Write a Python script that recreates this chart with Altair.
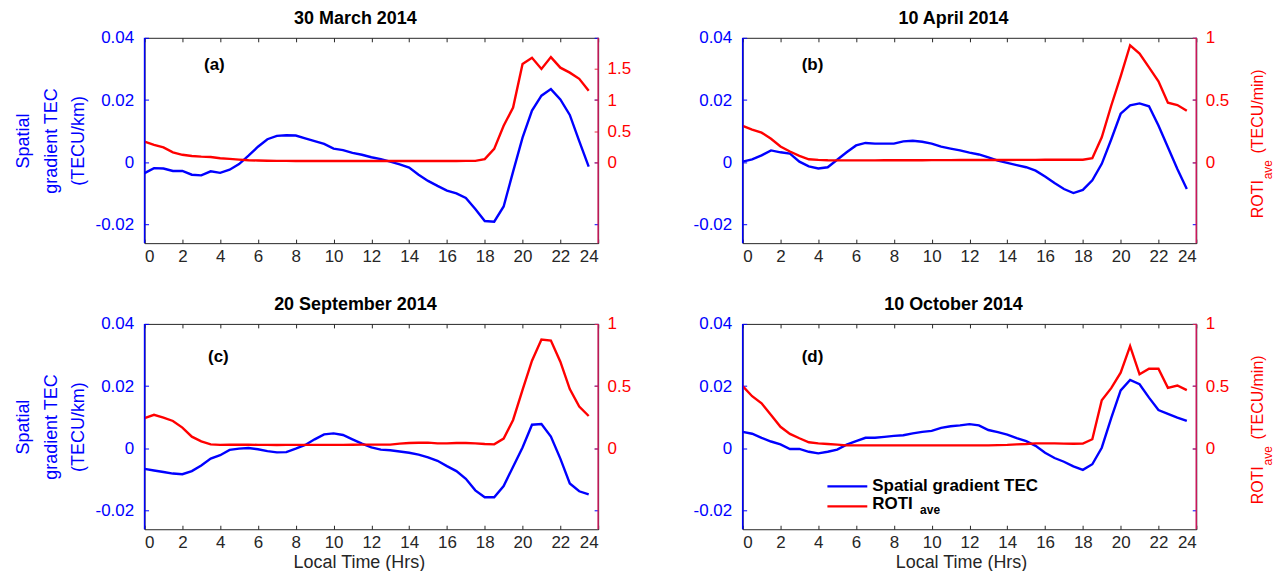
import altair as alt
import pandas as pd

hours = [0.0, 0.5, 1.0, 1.5, 2.0, 2.5, 3.0, 3.5, 4.0, 4.5, 5.0, 5.5,
         6.0, 6.5, 7.0, 7.5, 8.0, 8.5, 9.0, 9.5, 10.0, 10.5, 11.0, 11.5,
         12.0, 12.5, 13.0, 13.5, 14.0, 14.5, 15.0, 15.5, 16.0, 16.5, 17.0, 17.5,
         18.0, 18.5, 19.0, 19.5, 20.0, 20.5, 21.0, 21.5, 22.0, 22.5, 23.0, 23.5]

# (a) 30 March 2014
sg_a = [-0.0035, -0.0019, -0.0020, -0.0028, -0.0028, -0.0040, -0.0042, -0.0029,
        -0.0034, -0.0024, -0.0006, 0.0021, 0.0050, 0.0074, 0.0085, 0.0087,
        0.0086, 0.0077, 0.0068, 0.0059, 0.0044, 0.0039, 0.0030, 0.0024,
        0.0016, 0.0010, 0.0002, -0.0007, -0.0017, -0.0040, -0.0060, -0.0076,
        -0.0091, -0.0100, -0.0115, -0.0150, -0.0189, -0.0191, -0.0142, -0.0030,
        0.0079, 0.0166, 0.0214, 0.0235, 0.0202, 0.0152, 0.0068, -0.0014]
roti_a = [0.33, 0.28, 0.24, 0.16, 0.12, 0.10, 0.09, 0.085,
          0.065, 0.054, 0.043, 0.032, 0.028, 0.025, 0.023, 0.022,
          0.021, 0.02, 0.02, 0.02, 0.02, 0.02, 0.02, 0.02,
          0.02, 0.02, 0.02, 0.02, 0.02, 0.02, 0.02, 0.02,
          0.02, 0.02, 0.022, 0.022, 0.05, 0.215, 0.586, 0.88,
          1.58, 1.68, 1.50, 1.69, 1.52, 1.44, 1.34, 1.15]

# (b) 10 April 2014
sg_b = [0.0002, 0.0009, 0.0022, 0.0038, 0.0032, 0.0028, 0.0002, -0.0013,
        -0.0020, -0.0016, 0.0008, 0.0032, 0.0054, 0.0062, 0.0060, 0.0060,
        0.0060, 0.0067, 0.0069, 0.0066, 0.0060, 0.0050, 0.0044, 0.0038,
        0.0031, 0.0025, 0.0016, 0.0005, -0.0002, -0.0009, -0.0016, -0.0027,
        -0.0046, -0.0067, -0.0086, -0.0099, -0.0089, -0.0058, -0.0005, 0.0073,
        0.0156, 0.0183, 0.0189, 0.0180, 0.0118, 0.0048, -0.0022, -0.0086]
roti_b = [0.292, 0.262, 0.238, 0.189, 0.127, 0.086, 0.051, 0.024,
          0.019, 0.016, 0.015, 0.015, 0.015, 0.015, 0.015, 0.016,
          0.016, 0.016, 0.016, 0.016, 0.017, 0.017, 0.017, 0.018,
          0.018, 0.018, 0.018, 0.018, 0.018, 0.019, 0.019, 0.019,
          0.02, 0.02, 0.02, 0.02, 0.02, 0.032, 0.20, 0.454,
          0.69, 0.94, 0.873, 0.762, 0.65, 0.478, 0.46, 0.414]

# (c) 20 September 2014
sg_c = [-0.0066, -0.0071, -0.0076, -0.0081, -0.0083, -0.0073, -0.0055, -0.0033,
        -0.0022, -0.0005, -0.0001, 0.0001, -0.0003, -0.0009, -0.0013, -0.0012,
        -0.0001, 0.0011, 0.0029, 0.0045, 0.0048, 0.0043, 0.0029, 0.0015,
        0.0003, -0.0004, -0.0006, -0.0010, -0.0014, -0.0020, -0.0029, -0.0040,
        -0.0057, -0.0073, -0.0098, -0.0135, -0.0157, -0.0157, -0.0121, -0.0059,
        0.0003, 0.0076, 0.0078, 0.0038, -0.0033, -0.0113, -0.0138, -0.0148]
roti_c = [0.242, 0.269, 0.247, 0.22, 0.167, 0.094, 0.056, 0.032,
          0.028, 0.029, 0.029, 0.029, 0.028, 0.028, 0.027, 0.028,
          0.028, 0.028, 0.028, 0.028, 0.028, 0.028, 0.029, 0.03,
          0.03, 0.03, 0.03, 0.038, 0.043, 0.045, 0.046, 0.040,
          0.040, 0.043, 0.043, 0.040, 0.035, 0.032, 0.078, 0.228,
          0.47, 0.704, 0.874, 0.866, 0.696, 0.476, 0.336, 0.26]

# (d) 10 October 2014
sg_d = [0.0053, 0.0047, 0.0034, 0.0022, 0.0013, -0.0002, -0.0002, -0.0011,
        -0.0016, -0.0011, -0.0004, 0.0012, 0.0023, 0.0034, 0.0034, 0.0037,
        0.0040, 0.0042, 0.0048, 0.0053, 0.0056, 0.0066, 0.0071, 0.0074,
        0.0078, 0.0074, 0.0059, 0.0052, 0.0044, 0.0033, 0.0023, 0.0008,
        -0.0014, -0.0031, -0.0043, -0.0058, -0.0069, -0.0051, 0.0002, 0.0097,
        0.0186, 0.0220, 0.0206, 0.0163, 0.0123, 0.0111, 0.0099, 0.0088]
roti_d = [0.50, 0.419, 0.362, 0.268, 0.173, 0.116, 0.081, 0.049,
          0.040, 0.035, 0.030, 0.024, 0.024, 0.024, 0.024, 0.024,
          0.024, 0.024, 0.024, 0.024, 0.024, 0.024, 0.024, 0.024,
          0.024, 0.024, 0.024, 0.026, 0.028, 0.032, 0.035, 0.040,
          0.040, 0.040, 0.038, 0.037, 0.038, 0.073, 0.386, 0.484,
          0.608, 0.822, 0.595, 0.64, 0.64, 0.486, 0.505, 0.468]

titles = ["30 March 2014", "10 April 2014", "20 September 2014", "10 October 2014"]
letters = ["(a)", "(b)", "(c)", "(d)"]
x_ticks = [0, 2, 4, 6, 8, 10, 12, 14, 16, 18, 20, 22, 24]
left_ticks = [-0.02, 0, 0.02, 0.04]
left_domain = [-0.026, 0.04]
right_ticks_a = [0, 0.5, 1, 1.5]
right_ticks = [0, 0.5, 1]
right_domain_a = [-1.3, 2.0]
right_domain = [-0.65, 1.0]
left_title = ["Spatial", "gradient TEC", "(TECU/km)"]
legend_labels = ["Spatial gradient TEC", "ROTI", "ave"]

W, H = 455, 206
FONT = "Liberation Sans"
BLUE = "#0000ff"
RED = "#ff0000"
DARK = "#262626"
RAXIS = "#c8185a"

one = pd.DataFrame({"k": [0]})


def panel(idx, sg, roti, rdom, rticks, show_left_title, show_right_title,
          show_x_title, show_legend, letter_pos, xtitle_x):
    df = pd.DataFrame({"hour": hours, "sg": sg, "roti": roti})
    xs = alt.Scale(domain=[0, 24], nice=False, zero=False)
    ys = alt.Scale(domain=left_domain, nice=False, zero=False)
    xk = dict(orient="bottom", values=x_ticks, offset=-4, tickSize=4, domain=False,
              grid=False, labelPadding=5, tickColor=DARK, labelColor=DARK,
              labelFontSize=17, labelFont=FONT)
    if show_x_title:
        x_axis = alt.Axis(title="Local Time (Hrs)", titleFontSize=18, titleFont=FONT,
                          titleFontWeight="normal", titleColor=DARK, titlePadding=3,
                          titleX=xtitle_x, titleAlign="center", **xk)
    else:
        x_axis = alt.Axis(title=None, **xk)
    yk = dict(orient="left", values=left_ticks, offset=-4, tickSize=4, domain=False,
              grid=False, tickColor=BLUE, labelColor=BLUE, labelPadding=11,
              labelFontSize=17, labelFont=FONT,
              labelExpr="datum.value == 0 ? '0' : (datum.value < 0 ? '-' : '') + format(abs(datum.value), '.2f')")
    if show_left_title:
        y_axis = alt.Axis(title=left_title, titleFontSize=18, titleFont=FONT,
                          titleFontWeight="normal", titleColor=BLUE, titleLineHeight=28,
                          titlePadding=7, **yk)
    else:
        y_axis = alt.Axis(title=None, **yk)

    blue = alt.Chart(df).mark_line(color=BLUE, strokeWidth=2.4).encode(
        x=alt.X("hour:Q", scale=xs, axis=x_axis),
        y=alt.Y("sg:Q", scale=ys, axis=y_axis),
    )
    # mirrored blue ticks on the right-hand side (no labels)
    mirror = alt.Chart(df).mark_line(opacity=0).encode(
        x=alt.X("hour:Q", scale=xs, axis=None),
        y=alt.Y("sg:Q", scale=ys,
                axis=alt.Axis(orient="right", values=left_ticks, offset=-4, tickSize=4,
                              domain=False, grid=False, labels=False, tickColor=BLUE,
                              title=None)),
    )
    red = alt.Chart(df).mark_line(color=RED, strokeWidth=2.4).encode(
        x=alt.X("hour:Q", scale=xs,
                axis=alt.Axis(orient="top", values=x_ticks, offset=-4, tickSize=4,
                              domain=False, grid=False, labels=False, tickColor=DARK,
                              title=None)),
        y=alt.Y("roti:Q", scale=alt.Scale(domain=rdom, nice=False, zero=False),
                axis=alt.Axis(orient="right", values=rticks, offset=-4, tickSize=4,
                              domain=False, grid=False, tickColor="#e8303a",
                              labelColor=RED, labelPadding=9, labelFontSize=17,
                              labelFont=FONT, labelExpr="format(datum.value, '~g')",
                              title=None)),
    )
    frame_l = alt.Chart(one).mark_rule(color=BLUE, strokeWidth=1.5).encode(
        x=alt.value(0), y=alt.value(0), y2=alt.value(H))
    frame_r = alt.Chart(one).mark_rule(color=RAXIS, strokeWidth=1.5).encode(
        x=alt.value(W), y=alt.value(0), y2=alt.value(H))
    letter = alt.Chart(one).mark_text(text=letters[idx], font=FONT, fontSize=17,
                                      fontWeight="bold", color="black",
                                      align="center", baseline="middle").encode(
        x=alt.value(letter_pos[0]), y=alt.value(letter_pos[1]))
    layers = [blue, mirror, red, frame_l, frame_r, letter]
    if show_right_title:
        t1 = alt.Chart(one).mark_text(text="ROTI", font=FONT, fontSize=16, color=RED,
                                      angle=270, align="left", baseline="alphabetic").encode(
            x=alt.value(522), y=alt.value(181))
        t2 = alt.Chart(one).mark_text(text="ave", font=FONT, fontSize=12, color=RED,
                                      angle=270, align="left", baseline="alphabetic").encode(
            x=alt.value(531), y=alt.value(142))
        t3 = alt.Chart(one).mark_text(text="(TECU/min)", font=FONT, fontSize=16, color=RED,
                                      angle=270, align="left", baseline="alphabetic").encode(
            x=alt.value(522), y=alt.value(116))
        layers += [t1, t2, t3]
    if show_legend:
        l1 = alt.Chart(one).mark_rule(color=BLUE, strokeWidth=2.4).encode(
            x=alt.value(85), x2=alt.value(125), y=alt.value(163))
        l2 = alt.Chart(one).mark_rule(color=RED, strokeWidth=2.4).encode(
            x=alt.value(85), x2=alt.value(125), y=alt.value(183))
        s1 = alt.Chart(one).mark_text(text=legend_labels[0], font=FONT, fontSize=17,
                                      fontWeight="bold", color="black", align="left",
                                      baseline="alphabetic").encode(
            x=alt.value(130), y=alt.value(168))
        s2 = alt.Chart(one).mark_text(text=legend_labels[1], font=FONT, fontSize=17,
                                      fontWeight="bold", color="black", align="left",
                                      baseline="alphabetic").encode(
            x=alt.value(130), y=alt.value(186))
        s3 = alt.Chart(one).mark_text(text=legend_labels[2], font=FONT, fontSize=12,
                                      fontWeight="bold", color="black", align="left",
                                      baseline="alphabetic").encode(
            x=alt.value(178), y=alt.value(191))
        layers += [l1, l2, s1, s2, s3]
    return alt.layer(*layers).resolve_scale(x="independent", y="independent").properties(
        width=W, height=H,
        title=alt.TitleParams(text=titles[idx], font=FONT, fontSize=18, fontWeight="bold",
                              color="black", anchor="middle", dx=-16, offset=1),
    )


pa = panel(0, sg_a, roti_a, right_domain_a, right_ticks_a, True, False, False, False, (70, 27), 215)
pb = panel(1, sg_b, roti_b, right_domain, right_ticks, False, True, False, False, (70, 27), 219)
pc = panel(2, sg_c, roti_c, right_domain, right_ticks, True, False, True, False, (74, 33), 215)
pd_ = panel(3, sg_d, roti_d, right_domain, right_ticks, False, True, True, True, (70, 33), 219)

chart = alt.concat(pa, pb, pc, pd_, columns=2, spacing={"row": 81, "column": 145},
                   bounds="flush").properties(
    padding={"left": 5, "top": 0, "right": 2, "bottom": 2}
).configure_view(stroke=DARK, strokeWidth=1)

chart.save("out.html", embed_options={"renderer": "svg", "actions": False})
